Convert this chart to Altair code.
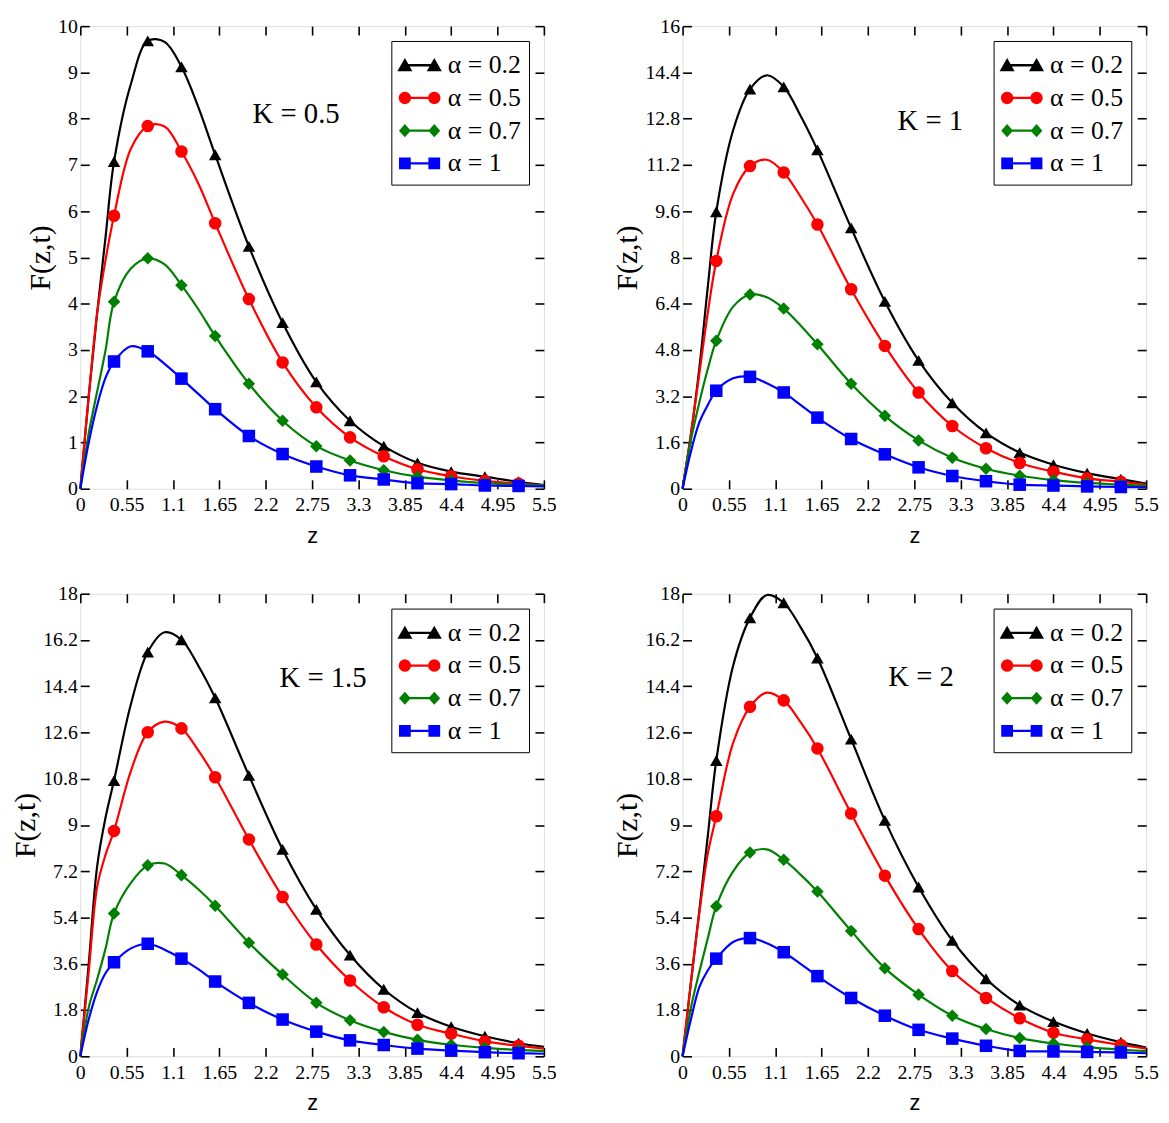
import math
import altair as alt
import pandas as pd

# ---------------- data ----------------
Z = [0, 0.1, 0.2, 0.3, 0.4, 0.6, 0.8, 1.0, 1.2, 1.4, 1.6, 2.0, 2.4, 2.8, 3.2, 3.6, 4.0, 4.4, 4.8, 5.2, 5.5]
MARKER_Z = [0.4, 0.8, 1.2, 1.6, 2.0, 2.4, 2.8, 3.2, 3.6, 4.0, 4.4, 4.8, 5.2]
SERIES = ["α = 0.2", "α = 0.5", "α = 0.7", "α = 1"]

# K = 0.5
K05_A02 = [0, 2.0, 3.8, 5.45, 7.07, 8.75, 9.68, 9.66, 9.12, 8.25, 7.22, 5.24, 3.59, 2.31, 1.47, 0.92, 0.56, 0.37, 0.26, 0.15, 0.08]
K05_A05 = [0, 2.0, 3.8, 4.95, 5.9, 7.35, 7.84, 7.83, 7.29, 6.6, 5.74, 4.10, 2.73, 1.76, 1.11, 0.70, 0.42, 0.27, 0.17, 0.11, 0.07]
K05_A07 = [0, 1.2, 2.1, 3.0, 4.04, 4.76, 4.98, 4.85, 4.40, 3.88, 3.30, 2.27, 1.47, 0.92, 0.61, 0.40, 0.26, 0.18, 0.12, 0.09, 0.07]
K05_A1 = [0, 1.0, 1.8, 2.4, 2.75, 3.08, 2.97, 2.7, 2.38, 2.05, 1.72, 1.14, 0.75, 0.48, 0.29, 0.20, 0.12, 0.10, 0.07, 0.06, 0.05]
# K = 1
K1_A02 = [0, 1.9, 4.2, 7.0, 9.58, 12.4, 13.82, 14.3, 13.9, 12.9, 11.72, 9.02, 6.48, 4.44, 2.97, 1.93, 1.25, 0.83, 0.54, 0.33, 0.18]
K1_A05 = [0, 1.9, 4.0, 6.1, 7.88, 10.2, 11.16, 11.38, 10.94, 10.1, 9.14, 6.9, 4.94, 3.33, 2.17, 1.40, 0.89, 0.59, 0.36, 0.24, 0.14]
K1_A07 = [0, 1.7, 3.0, 4.15, 5.12, 6.3, 6.72, 6.62, 6.23, 5.65, 5.0, 3.63, 2.52, 1.67, 1.07, 0.69, 0.45, 0.30, 0.20, 0.14, 0.10]
K1_A1 = [0, 1.3, 2.3, 2.9, 3.39, 3.82, 3.87, 3.65, 3.33, 2.9, 2.46, 1.72, 1.19, 0.74, 0.44, 0.26, 0.14, 0.11, 0.08, 0.06, 0.05]
# K = 1.5
K15_A02 = [0, 3.6, 7.4, 9.3, 10.73, 13.7, 15.73, 16.5, 16.21, 15.2, 13.95, 10.93, 8.05, 5.72, 3.94, 2.61, 1.70, 1.15, 0.78, 0.51, 0.37]
K15_A05 = [0, 3.3, 6.6, 7.85, 8.77, 11.1, 12.61, 13.02, 12.76, 11.9, 10.86, 8.44, 6.2, 4.35, 2.95, 1.91, 1.23, 0.88, 0.58, 0.41, 0.30]
K15_A07 = [0, 1.9, 3.0, 4.2, 5.56, 6.75, 7.43, 7.5, 7.05, 6.5, 5.86, 4.42, 3.18, 2.08, 1.40, 0.95, 0.64, 0.45, 0.33, 0.25, 0.20]
K15_A1 = [0, 1.44, 2.52, 3.24, 3.66, 4.2, 4.38, 4.15, 3.8, 3.39, 2.91, 2.08, 1.43, 0.96, 0.62, 0.44, 0.30, 0.22, 0.16, 0.12, 0.10]
# K = 2
K2_A02 = [0, 2.9, 5.7, 8.6, 11.51, 15.2, 17.06, 17.95, 17.65, 16.7, 15.5, 12.34, 9.18, 6.59, 4.51, 3.02, 1.99, 1.35, 0.89, 0.55, 0.34]
K2_A05 = [0, 2.9, 5.6, 7.9, 9.34, 12.2, 13.6, 14.15, 13.85, 13.0, 11.98, 9.45, 7.03, 4.95, 3.32, 2.27, 1.48, 0.92, 0.66, 0.44, 0.30]
K2_A07 = [0, 1.9, 3.3, 4.6, 5.84, 7.2, 7.93, 8.05, 7.65, 7.07, 6.41, 4.88, 3.43, 2.4, 1.58, 1.06, 0.71, 0.50, 0.36, 0.26, 0.20]
K2_A1 = [0, 1.45, 2.7, 3.35, 3.8, 4.45, 4.6, 4.4, 4.05, 3.6, 3.12, 2.27, 1.58, 1.03, 0.69, 0.41, 0.21, 0.19, 0.17, 0.15, 0.12]

X_TICKS = [0, 0.55, 1.1, 1.65, 2.2, 2.75, 3.3, 3.85, 4.4, 4.95, 5.5]
Y_TICKS_A = [0, 1, 2, 3, 4, 5, 6, 7, 8, 9, 10]
Y_TICKS_B = [0, 1.6, 3.2, 4.8, 6.4, 8, 9.6, 11.2, 12.8, 14.4, 16]
Y_TICKS_C = [0, 1.8, 3.6, 5.4, 7.2, 9, 10.8, 12.6, 14.4, 16.2, 18]

K_LABELS = ["K = 0.5", "K = 1", "K = 1.5", "K = 2"]
K_LABEL_Z = [2.56, 2.94, 2.88, 2.83]
K_LABEL_F = [8.1, 12.7, 14.7, 14.75]

PANELS = [
    ([K05_A02, K05_A05, K05_A07, K05_A1], Y_TICKS_A),
    ([K1_A02, K1_A05, K1_A07, K1_A1], Y_TICKS_B),
    ([K15_A02, K15_A05, K15_A07, K15_A1], Y_TICKS_C),
    ([K2_A02, K2_A05, K2_A07, K2_A1], Y_TICKS_C),
]

# ---------------- styling ----------------
COLORS = ["#000000", "#ff0000", "#008000", "#0000ff"]
SHAPES = ["triangle-up", "circle", "diamond", "square"]
SERIF = "Liberation Serif"
W, H = 468, 467
TICK = 9


def legend_path(kind):
    """Symbol = short line with the marker at both ends (unit coordinates)."""
    parts = ["M-0.95,-0.07H0.95V0.07H-0.95Z"]
    for cx in (-0.9, 0.9):
        if kind == "triangle":
            parts.append(f"M{cx:.3f},-0.44L{cx + 0.46:.3f},0.36L{cx - 0.46:.3f},0.36Z")
        elif kind == "circle":
            r = 0.38
            pts = [(cx + r * math.cos(2 * math.pi * i / 20), r * math.sin(2 * math.pi * i / 20)) for i in range(20)]
            parts.append("M" + "L".join(f"{x:.3f},{y:.3f}" for x, y in pts) + "Z")
        elif kind == "diamond":
            parts.append(f"M{cx:.3f},-0.4L{cx + 0.36:.3f},0L{cx:.3f},0.4L{cx - 0.36:.3f},0Z")
        else:
            parts.append(f"M{cx - 0.36:.3f},-0.36H{cx + 0.36:.3f}V0.36H{cx - 0.36:.3f}Z")
    return "".join(parts)


LEGEND_SHAPES = [legend_path(k) for k in ["triangle", "circle", "diamond", "square"]]


def panel(idx):
    series_vals, yticks = PANELS[idx]
    rows = []
    for name, vals in zip(SERIES, series_vals):
        for z, f in zip(Z, vals):
            rows.append({"z": z, "F": f, "series": name})
    df = pd.DataFrame(rows)
    mk = df[df["z"].isin(MARKER_Z)]
    ymax = yticks[-1]

    xscale = alt.Scale(domain=[0, 5.5], nice=False, zero=False)
    yscale = alt.Scale(domain=[0, ymax], nice=False)
    color_sc = alt.Scale(domain=SERIES, range=COLORS)

    common_axis = dict(domain=False, grid=False, tickSize=TICK, offset=-TICK,
                       tickColor="black", tickWidth=1.6)
    hidden_axis = dict(labels=False, minExtent=0, maxExtent=0, **common_axis)

    lines = alt.Chart(df).mark_line(interpolate="catmull-rom", strokeWidth=2.2).encode(
        x=alt.X("z:Q", scale=xscale, title="z",
                axis=alt.Axis(values=X_TICKS, format=".2~f", labelFont=SERIF, labelFontSize=20,
                              labelColor="black", labelPadding=6, labelFlush=False,
                              titleFont="Liberation Sans", titleFontSize=22, titleFontWeight="normal",
                              titleColor="black", titlePadding=11, **common_axis)),
        y=alt.Y("F:Q", scale=yscale, title="F(z,t)",
                axis=alt.Axis(values=yticks, format=".1~f", labelFont=SERIF, labelFontSize=20,
                              labelColor="black", labelPadding=3, labelFlush=False,
                              titleFont=SERIF, titleFontSize=30, titleFontWeight="normal",
                              titleColor="black", titlePadding=2, **common_axis)),
        color=alt.Color("series:N", scale=color_sc, legend=None),
        detail="series:N",
    )

    points = alt.Chart(mk).mark_point(filled=True, size=160, opacity=1).encode(
        x=alt.X("z:Q", scale=xscale, title=None,
                axis=alt.Axis(orient="top", values=X_TICKS, **hidden_axis)),
        y=alt.Y("F:Q", scale=yscale, title=None,
                axis=alt.Axis(orient="right", values=yticks, **hidden_axis)),
        color=alt.Color("series:N", scale=color_sc, legend=None),
        shape=alt.Shape("series:N", scale=alt.Scale(domain=SERIES, range=SHAPES), legend=None),
    )

    # legend-only layer: no rows survive the filter, the legend comes from the explicit scale domains
    legend_layer = alt.Chart(mk).transform_filter("datum.z < 0").mark_point(
        filled=True, size=1089, opacity=1).encode(
        x=alt.X("z:Q", scale=xscale, axis=None),
        y=alt.Y("F:Q", scale=yscale, axis=None),
        color=alt.Color("series:N", scale=color_sc,
                        legend=alt.Legend(title=None, orient="top-right", offset=15, padding=8,
                                          strokeColor="black", fillColor="white",
                                          labelFont=SERIF, labelFontSize=26, labelColor="black",
                                          labelOffset=12, symbolSize=1089, symbolStrokeWidth=0,
                                          symbolOpacity=1, rowPadding=3, symbolOffset=4)),
        shape=alt.Shape("series:N", scale=alt.Scale(domain=SERIES, range=LEGEND_SHAPES)),
    )

    lab = pd.DataFrame({"z": [K_LABEL_Z[idx]], "F": [K_LABEL_F[idx]], "t": [K_LABELS[idx]]})
    text = alt.Chart(lab).mark_text(font=SERIF, fontSize=29, color="black",
                                    align="center", baseline="middle").encode(
        x=alt.X("z:Q", scale=xscale, axis=None),
        y=alt.Y("F:Q", scale=yscale, axis=None),
        text="t:N",
    )

    return (
        alt.layer(lines, points, legend_layer, text)
        .resolve_scale(color="independent", shape="independent")
        .resolve_axis(x="independent", y="independent")
        .properties(width=W, height=H)
    )


RES = dict(x="independent", y="independent", color="independent", shape="independent")
top = alt.hconcat(panel(0), panel(1), spacing=56).resolve_scale(**RES)
bottom = alt.hconcat(panel(2), panel(3), spacing=56).resolve_scale(**RES)

chart = (
    alt.vconcat(top, bottom, spacing=36, padding=2)
    .resolve_scale(**RES)
    .configure_view(stroke="black", strokeWidth=2)
    .configure(background="white")
)

chart.save("out.html", embed_options={"renderer": "svg", "actions": False})
